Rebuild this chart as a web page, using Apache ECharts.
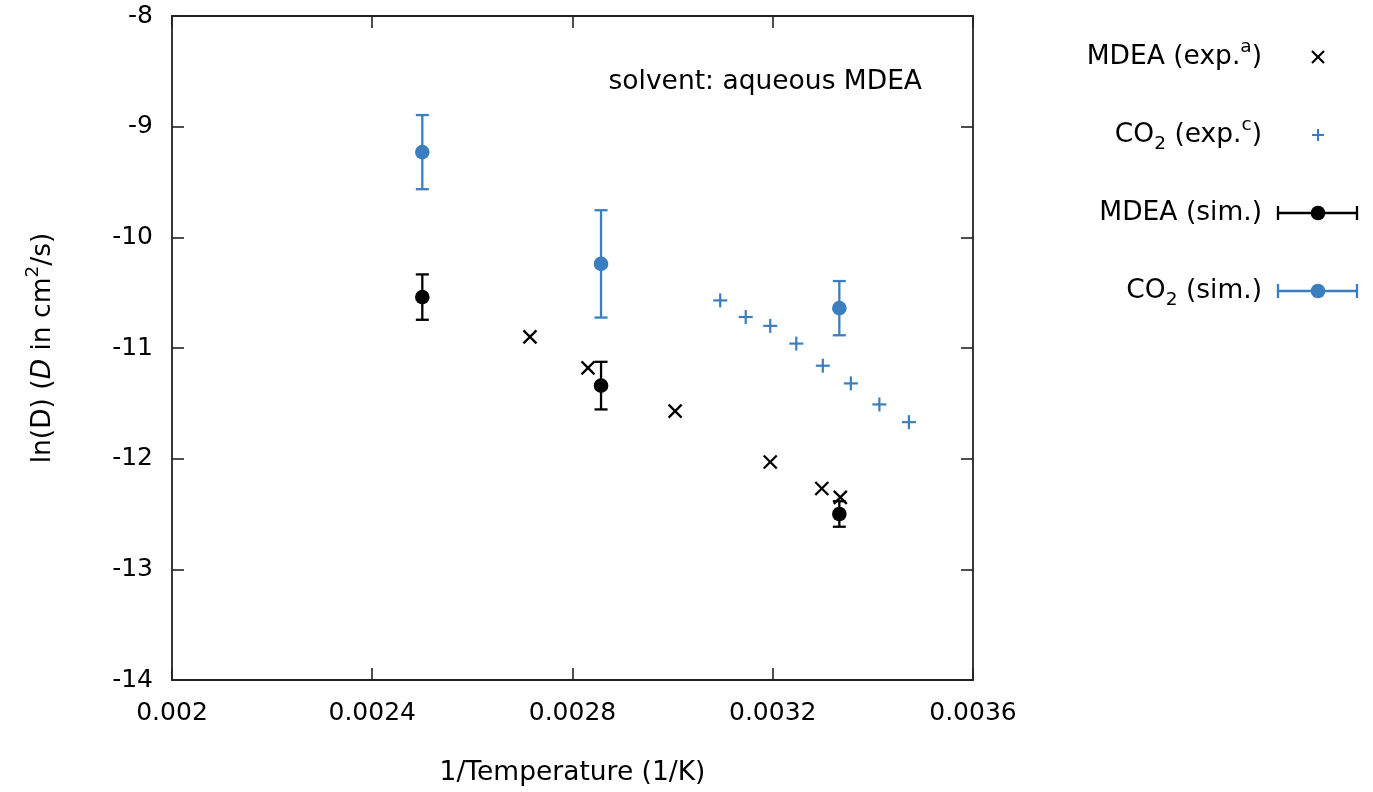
<!DOCTYPE html>
<html>
<head>
<meta charset="utf-8">
<script src="https://cdn.jsdelivr.net/npm/echarts@6/dist/echarts.min.js"></script>
<style>
html,body{margin:0;padding:0;background:#fff;}
#chart{width:1373px;height:792px;}
</style>
</head>
<body>
<div id="chart"></div>
<script>
// ---- data ----
const xTickLabels = ['0.002', '0.0024', '0.0028', '0.0032', '0.0036'];
const yTickLabels = ['-14', '-13', '-12', '-11', '-10', '-9', '-8'];

const mdeaExpX = [0.002715, 0.002831, 0.003005, 0.003195, 0.003298, 0.003335];
const mdeaExpY = [-10.90, -11.18, -11.57, -12.03, -12.27, -12.35];

const co2ExpX = [0.003095, 0.003146, 0.003195, 0.003247, 0.003300, 0.003356, 0.003413, 0.003472];
const co2ExpY = [-10.57, -10.72, -10.80, -10.96, -11.16, -11.32, -11.51, -11.67];

const simX = [0.0025, 0.002857, 0.003333];
const mdeaSimY = [-10.54, -11.34, -12.50];
const mdeaSimErr = [0.205, 0.215, 0.115];
const co2SimY = [-9.23, -10.24, -10.64];
const co2SimErr = [0.335, 0.485, 0.245];

const legendNames = ['{t|MDEA (exp.}{sup|a}{t|)}', '{t|CO}{sub|2}{t| (exp.}{sup|c}{t|)}', '{t|MDEA (sim.)}', '{t|CO}{sub|2}{t| (sim.)}'];

// ---- style ----
const BLUE = '#3a7ebf';
const BLACK = '#000000';
const FONT = 'DejaVu Sans';
const FS = 25;
const FL = 26.5;

const richBase = {
  t: {fontFamily: FONT, fontSize: FL, color: '#000', lineHeight: 38},
  i: {fontFamily: FONT, fontSize: FL, color: '#000', fontStyle: 'italic', lineHeight: 38},
  sup: {fontFamily: FONT, fontSize: 18.5, color: '#000', verticalAlign: 'top', lineHeight: 20},
  sub: {fontFamily: FONT, fontSize: 18.5, color: '#000', verticalAlign: 'bottom', lineHeight: 17}
};

function pairs(xs, ys) { return xs.map((x, i) => [x, ys[i]]); }
function triples(xs, ys, es) { return xs.map((x, i) => [x, ys[i], es[i]]); }

function crossSeries(name, data, color, kind) {
  return {
    name: name, type: 'custom', xAxisIndex: 0, yAxisIndex: 0, data: data,
    renderItem: function (params, api) {
      const p = api.coord([api.value(0), api.value(1)]);
      const h = kind === 'x' ? 6.5 : 7;
      const shape = kind === 'x'
        ? [[p[0]-h, p[1]-h, p[0]+h, p[1]+h], [p[0]-h, p[1]+h, p[0]+h, p[1]-h]]
        : [[p[0]-h, p[1], p[0]+h, p[1]], [p[0], p[1]-h, p[0], p[1]+h]];
      return {type: 'group', children: shape.map(s => ({
        type: 'line', shape: {x1: s[0], y1: s[1], x2: s[2], y2: s[3]},
        style: {stroke: color, lineWidth: kind === 'x' ? 2.3 : 2.2}
      }))};
    }
  };
}

function errSeries(name, data, color) {
  return {
    name: name, type: 'custom', xAxisIndex: 0, yAxisIndex: 0, data: data,
    renderItem: function (params, api) {
      const x = api.value(0), y = api.value(1), e = api.value(2);
      const c = api.coord([x, y]);
      const top = api.coord([x, y + e]);
      const bot = api.coord([x, y - e]);
      const cw = 6.5;
      const st = {stroke: color, lineWidth: 2.3};
      return {type: 'group', children: [
        {type: 'line', shape: {x1: top[0], y1: top[1], x2: bot[0], y2: bot[1]}, style: st},
        {type: 'line', shape: {x1: top[0]-cw, y1: top[1], x2: top[0]+cw, y2: top[1]}, style: st},
        {type: 'line', shape: {x1: bot[0]-cw, y1: bot[1], x2: bot[0]+cw, y2: bot[1]}, style: st},
        {type: 'circle', shape: {cx: c[0], cy: c[1], r: 7.3}, style: {fill: color}}
      ]};
    }
  };
}

// ---- legend graphics ----
const legX = 1262, legMarkX = 1318, legY = [57, 135, 213, 291];
const graphics = [];
legendNames.forEach((n, i) => {
  graphics.push({type: 'text', x: legX, y: legY[i], style: {text: n, rich: richBase, align: 'right', verticalAlign: 'middle'}});
});
// x marker
graphics.push({type: 'line', shape: {x1: legMarkX-6, y1: legY[0]-6, x2: legMarkX+6, y2: legY[0]+6}, style: {stroke: BLACK, lineWidth: 2.2}});
graphics.push({type: 'line', shape: {x1: legMarkX-6, y1: legY[0]+6, x2: legMarkX+6, y2: legY[0]-6}, style: {stroke: BLACK, lineWidth: 2.2}});
// + marker
graphics.push({type: 'line', shape: {x1: legMarkX-6, y1: legY[1], x2: legMarkX+6, y2: legY[1]}, style: {stroke: BLUE, lineWidth: 2}});
graphics.push({type: 'line', shape: {x1: legMarkX, y1: legY[1]-6, x2: legMarkX, y2: legY[1]+6}, style: {stroke: BLUE, lineWidth: 2}});
// error-bar markers
[[legY[2], BLACK], [legY[3], BLUE]].forEach(([yy, col]) => {
  const st = {stroke: col, lineWidth: 2.3};
  graphics.push({type: 'line', shape: {x1: 1278, y1: yy, x2: 1357, y2: yy}, style: st});
  graphics.push({type: 'line', shape: {x1: 1278, y1: yy-7, x2: 1278, y2: yy+7}, style: st});
  graphics.push({type: 'line', shape: {x1: 1357, y1: yy-7, x2: 1357, y2: yy+7}, style: st});
  graphics.push({type: 'circle', shape: {cx: legMarkX, cy: yy, r: 7.3}, style: {fill: col}});
});
// annotation
graphics.push({type: 'text', x: 922, y: 82, style: {text: 'solvent: aqueous MDEA', font: FL + 'px "' + FONT + '"', fill: '#000', align: 'right', verticalAlign: 'middle'}});

const axisLineStyle = {color: '#222', width: 1.8};
const tickCommon = {show: true, inside: true, length: 12, lineStyle: {color: '#222', width: 1.6}};

const option = {
  backgroundColor: '#fff',
  animation: false,
  grid: {left: 172, right: 400, top: 16, bottom: 111, containLabel: false},
  xAxis: [
    {type: 'value', min: 0.002, max: 0.0036, interval: 0.0004, position: 'bottom',
      axisLine: {show: true, lineStyle: axisLineStyle}, axisTick: tickCommon, splitLine: {show: false},
      axisLabel: {margin: 21, fontFamily: FONT, fontSize: FS, color: '#000',
        formatter: (v, idx) => xTickLabels[idx]},
      name: '1/Temperature (1/K)', nameLocation: 'middle', nameGap: 80,
      nameTextStyle: {fontFamily: FONT, fontSize: FL, color: '#000'}},
    {type: 'value', min: 0.002, max: 0.0036, interval: 0.0004, position: 'top',
      axisLine: {show: true, lineStyle: axisLineStyle}, axisTick: tickCommon, splitLine: {show: false},
      axisLabel: {show: false}}
  ],
  yAxis: [
    {type: 'value', min: -14, max: -8, interval: 1, position: 'left',
      axisLine: {show: true, lineStyle: axisLineStyle}, axisTick: tickCommon, splitLine: {show: false},
      axisLabel: {margin: 19, fontFamily: FONT, fontSize: FS, color: '#000',
        formatter: (v, idx) => yTickLabels[idx]},
      name: '{t|ln(D) (}{i|D}{t| in cm}{sup|2}{t|/s)}', nameLocation: 'middle', nameGap: 110,
      nameTextStyle: {rich: richBase}},
    {type: 'value', min: -14, max: -8, interval: 1, position: 'right',
      axisLine: {show: true, lineStyle: axisLineStyle}, axisTick: tickCommon, splitLine: {show: false},
      axisLabel: {show: false}}
  ],
  graphic: graphics,
  series: [
    crossSeries('MDEA (exp.)', pairs(mdeaExpX, mdeaExpY), BLACK, 'x'),
    crossSeries('CO2 (exp.)', pairs(co2ExpX, co2ExpY), BLUE, '+'),
    errSeries('MDEA (sim.)', triples(simX, mdeaSimY, mdeaSimErr), BLACK),
    errSeries('CO2 (sim.)', triples(simX, co2SimY, co2SimErr), BLUE)
  ]
};

const chart = echarts.init(document.getElementById('chart'), null, {renderer: 'canvas'});
chart.setOption(option);
</script>
</body>
</html>
